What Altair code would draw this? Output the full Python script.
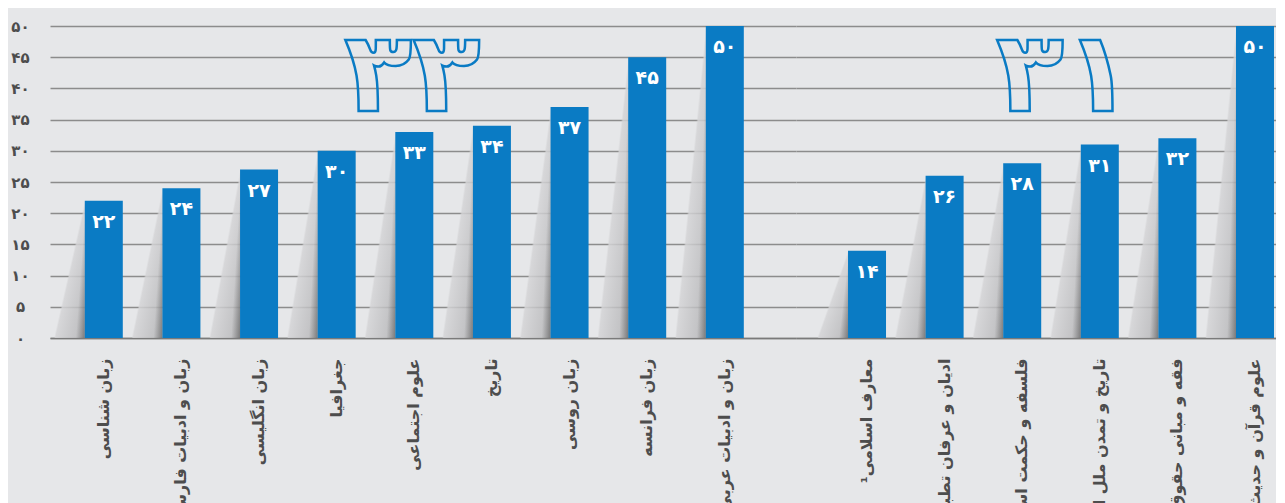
import altair as alt
import pandas as pd

# ---- data ----
left_names = ["زبان شناسی", "زبان و ادبیات فارسی", "زبان انگلیسی", "جغرافیا",
              "علوم اجتماعی", "تاریخ", "زبان روسی", "زبان فرانسه", "زبان و ادبیات عربی"]
left_values = [22, 24, 27, 30, 33, 34, 37, 45, 50]
left_value_labels = ["۲۲", "۲۴", "۲۷", "۳۰", "۳۳", "۳۴", "۳۷", "۴۵", "۵۰"]

right_names = ["معارف اسلامی¹", "ادیان و عرفان تطبیقی", "فلسفه و حکمت اسلامی",
               "تاریخ و تمدن ملل اسلامی", "فقه و مبانی حقوق اسلامی", "علوم قرآن و حدیث"]
right_values = [14, 26, 28, 31, 32, 50]
right_value_labels = ["۱۴", "۲۶", "۲۸", "۳۱", "۳۲", "۵۰"]

y_ticks = [0, 5, 10, 15, 20, 25, 30, 35, 40, 45, 50]
y_tick_labels = ["۰", "۵", "۱۰", "۱۵", "۲۰", "۲۵", "۳۰", "۳۵", "۴۰", "۴۵", "۵۰"]

left_note_name = ["علوم اجتماعی"]
left_note_text = ["۳۳"]
left_note_y = [36.3]
right_note_name = ["فلسفه و حکمت اسلامی"]
right_note_text = ["۳۱"]
right_note_y = [36.3]

# ---- style ----
FONT = "DejaVu Sans"
BLUE = "#0a7bc4"
TEXT = "#4d4d4d"
GRID = "#8c8c8c"
BG = "#e6e7e9"

label_expr = "[" + ",".join('"%s"' % t for t in y_tick_labels) + "][round(datum.value/5)]"

wedge_fill = alt.LinearGradient(
    gradient="linear",
    stops=[
        alt.GradientStop(color="rgba(215,215,217,0)", offset=0),
        alt.GradientStop(color="rgba(215,215,217,0)", offset=0.49),
        alt.GradientStop(color="rgba(212,212,214,0.85)", offset=0.52),
        alt.GradientStop(color="rgba(175,175,177,0.8)", offset=1),
    ],
    x1=0, y1=0, x2=1, y2=1,
)
strip_fill = alt.LinearGradient(
    gradient="linear",
    stops=[
        alt.GradientStop(color="rgba(90,90,90,0)", offset=0),
        alt.GradientStop(color="rgba(90,90,90,0)", offset=0.55),
        alt.GradientStop(color="rgba(80,80,80,0.6)", offset=1),
    ],
    x1=0, y1=0, x2=1, y2=1,
)


def panel(names, values, vlabels, nname, ntext, ny, width, pad_outer, align, show_y, ndx):
    df = pd.DataFrame({"name": names, "value": values, "label": vlabels})
    xenc = alt.X(
        "name:N", sort=names,
        scale=alt.Scale(paddingInner=0.51, paddingOuter=pad_outer, align=align),
        axis=alt.Axis(title=None, labelAngle=270, labelPadding=20, ticks=False,
                      domainColor="#7a7a7a", domainWidth=1.5, labelFont=FONT,
                      labelFontSize=16, labelFontWeight="bold", labelColor=TEXT,
                      labelLimit=400),
    )
    yenc = alt.Y(
        "value:Q",
        scale=alt.Scale(domain=[0, 50], nice=False),
        axis=alt.Axis(title=None, values=y_ticks, labelExpr=label_expr, grid=True,
                      gridColor=GRID, gridWidth=1.5, ticks=False, domain=False,
                      labelPadding=30, labelAlign="center", labels=show_y,
                      labelOverlap=False, labelFont=FONT, labelFontSize=15,
                      labelFontWeight="bold", labelColor=TEXT),
    )
    base = alt.Chart(df).encode(x=xenc, y=yenc)
    wedge = base.mark_bar(size=31, xOffset=-34, color=wedge_fill)
    strip = base.mark_bar(size=10, xOffset=-24, color=strip_fill)
    bars = base.mark_bar(size=38, color=BLUE)
    txt = base.mark_text(color="white", font=FONT, fontSize=19, fontWeight="bold",
                         baseline="alphabetic", dy=27).encode(text="label:N")
    ndf = pd.DataFrame({"name": nname, "label": ntext, "value": ny})
    note = alt.Chart(ndf).mark_text(
        font=FONT, fontSize=112, fontWeight="bold", color=BLUE, fillOpacity=0,
        stroke=BLUE, strokeWidth=2.5, baseline="alphabetic", dx=ndx,
    ).encode(x=xenc, y=yenc, text="label:N")
    return alt.layer(wedge, strip, bars, txt, note).properties(width=width, height=312)


left = panel(left_names, left_values, left_value_labels, left_note_name, left_note_text,
             left_note_y, 746, 0.56, 0.40, True, -2)
right = panel(right_names, right_values, right_value_labels, right_note_name,
              right_note_text, right_note_y, 480, 0.348, 0.963, False, 42)

chart = alt.hconcat(left, right, spacing=0).resolve_scale(x="independent").properties(
    background=BG,
    padding={"left": 2, "top": 11, "right": 0, "bottom": 0},
).configure_view(stroke=None)

chart.save("out.html", embed_options={"renderer": "svg", "actions": False})
